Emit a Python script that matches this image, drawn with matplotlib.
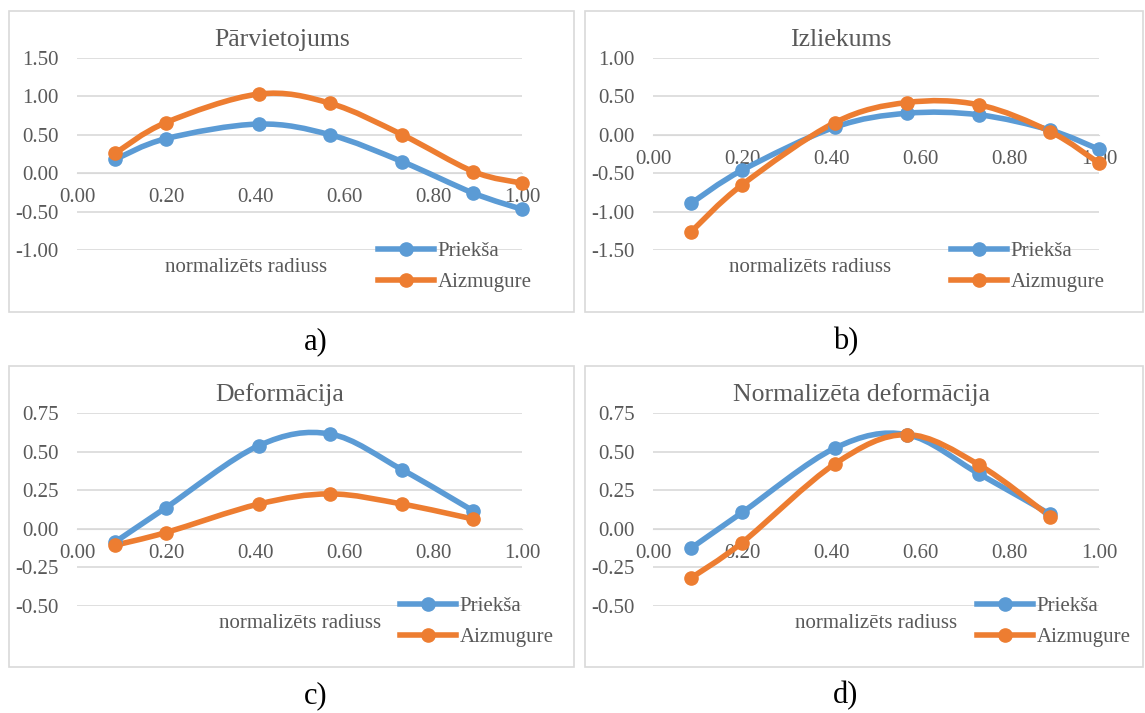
import matplotlib
matplotlib.use("Agg")
import matplotlib.pyplot as plt
from matplotlib.path import Path
from matplotlib.patches import PathPatch, Rectangle
from matplotlib.lines import Line2D

plt.rcParams['font.family'] = ['Liberation Serif', 'DejaVu Serif']

# data
x7 = [0.086, 0.2, 0.408, 0.569, 0.731, 0.891, 1.0]
x6 = x7[:6]

a_front = [0.18, 0.45, 0.64, 0.50, 0.15, -0.26, -0.47]
a_back = [0.26, 0.66, 1.03, 0.91, 0.50, 0.02, -0.13]
b_front = [-0.89, -0.46, 0.10, 0.28, 0.26, 0.06, -0.19]
b_back = [-1.26, -0.65, 0.16, 0.42, 0.39, 0.04, -0.37]
c_front = [-0.085, 0.137, 0.538, 0.614, 0.382, 0.115]
c_back = [-0.106, -0.024, 0.16, 0.226, 0.16, 0.063]
d_front = [-0.124, 0.106, 0.523, 0.61, 0.356, 0.093]
d_back = [-0.317, -0.089, 0.421, 0.61, 0.414, 0.078]

titles = ["Pārvietojums", "Izliekums", "Deformācija", "Normalizēta deformācija"]
letters = ["a)", "b)", "c)", "d)"]
series_names = ["Priekša", "Aizmugure"]
xticks = [0.0, 0.2, 0.4, 0.6, 0.8, 1.0]

BLUE = "#5B9BD5"
ORANGE = "#ED7D31"
GRID = "#D9D9D9"
TXT = "#595959"
LW = 4.0
MS = 9.5

W, H = 1145, 713
fig = plt.figure(figsize=(W / 100, H / 100), dpi=100)


def fx(px):
    return px / W


def fy(py):
    return 1 - py / H


def smooth_path(xs, ys):
    # excel-like smoothed line as cubic bezier segments
    pts = list(zip(xs, ys))
    n = len(pts)
    verts = [pts[0]]
    codes = [Path.MOVETO]
    for i in range(n - 1):
        p0 = pts[max(i - 1, 0)]
        p1 = pts[i]
        p2 = pts[i + 1]
        p3 = pts[min(i + 2, n - 1)]
        c1 = (p1[0] + (p2[0] - p0[0]) / 6, p1[1] + (p2[1] - p0[1]) / 6)
        c2 = (p2[0] - (p3[0] - p1[0]) / 6, p2[1] - (p3[1] - p1[1]) / 6)
        verts += [c1, c2, p2]
        codes += [Path.CURVE4] * 3
    return Path(verts, codes)


# panel layout in pixels: frame, plot area, title centre, xlabel, legend, letter
panels = [
    dict(frame=(9, 11, 574, 312), plot=(77, 58, 522, 250), title=(282, 40),
         xlab=(246, 268), leg=(378, 267), letter=(316, 342),
         x=x7, front=a_front, back=a_back, yt=[-1.0, -0.5, 0.0, 0.5, 1.0, 1.5]),
    dict(frame=(585, 11, 1143, 312), plot=(653, 58, 1099, 250), title=(841, 40),
         xlab=(810, 268), leg=(951, 267), letter=(846, 342),
         x=x7, front=b_front, back=b_back, yt=[-1.5, -1.0, -0.5, 0.0, 0.5, 1.0]),
    dict(frame=(9, 366, 574, 667), plot=(77, 413, 522, 606), title=(280, 395),
         xlab=(300, 624), leg=(400, 622), letter=(316, 696),
         x=x6, front=c_front, back=c_back, yt=[-0.5, -0.25, 0.0, 0.25, 0.5, 0.75]),
    dict(frame=(585, 366, 1143, 667), plot=(653, 413, 1099, 606), title=(862, 395),
         xlab=(876, 624), leg=(977, 622), letter=(846, 696),
         x=x6, front=d_front, back=d_back, yt=[-0.5, -0.25, 0.0, 0.25, 0.5, 0.75]),
]

for i, p in enumerate(panels):
    l, t, r, b = p["frame"]
    fig.patches.append(Rectangle((fx(l), fy(b)), fx(r - l), (b - t) / H,
                                 transform=fig.transFigure, fill=False,
                                 edgecolor=GRID, lw=1.2))

    l, t, r, b = p["plot"]
    ax = fig.add_axes([fx(l), fy(b), fx(r - l), (b - t) / H])
    ax.set_facecolor("none")
    ax.set_xlim(0, 1)
    ax.set_ylim(p["yt"][0], p["yt"][-1])
    ax.set_xticks(xticks)
    ax.set_xticklabels([f"{v:.2f}" for v in xticks])
    ax.set_yticks(p["yt"])
    ax.set_yticklabels([f"{v:.2f}" for v in p["yt"]])
    ax.tick_params(length=0, labelsize=15, labelcolor=TXT)
    ax.tick_params(axis="y", pad=13)
    ax.tick_params(axis="x", pad=11)
    for s in ["left", "right", "top"]:
        ax.spines[s].set_visible(False)
    ax.spines["bottom"].set_position(("data", 0))
    ax.spines["bottom"].set_color(GRID)
    ax.grid(axis="y", color=GRID, lw=1.2)
    ax.set_axisbelow(True)

    for ys, col in [(p["front"], BLUE), (p["back"], ORANGE)]:
        patch = PathPatch(smooth_path(p["x"], ys), facecolor="none", edgecolor=col,
                          lw=LW, capstyle="round", joinstyle="round", clip_on=False, zorder=3)
        ax.add_patch(patch)
        ax.plot(p["x"], ys, "o", color=col, ms=MS, clip_on=False, zorder=4)

    fig.text(fx(p["title"][0]), fy(p["title"][1]), titles[i], ha="center", va="center",
             fontsize=18.5, color=TXT)
    fig.text(fx(p["xlab"][0]), fy(p["xlab"][1]), "normalizēts radiuss", ha="center",
             va="center", fontsize=15, color=TXT)
    fig.text(fx(p["letter"][0]), fy(p["letter"][1]), letters[i], ha="center", va="center",
             fontsize=22, color="black")

    handles = [Line2D([], [], color=BLUE, lw=LW, marker="o", ms=MS),
               Line2D([], [], color=ORANGE, lw=LW, marker="o", ms=MS)]
    fig.legend(handles, series_names, loc="center left",
               bbox_to_anchor=(fx(p["leg"][0]), fy(p["leg"][1])),
               frameon=False, fontsize=15, handlelength=2.7, handletextpad=0.15,
               labelspacing=0.55, borderpad=0, borderaxespad=0, labelcolor=TXT)

fig.savefig("out.png", dpi=100)
